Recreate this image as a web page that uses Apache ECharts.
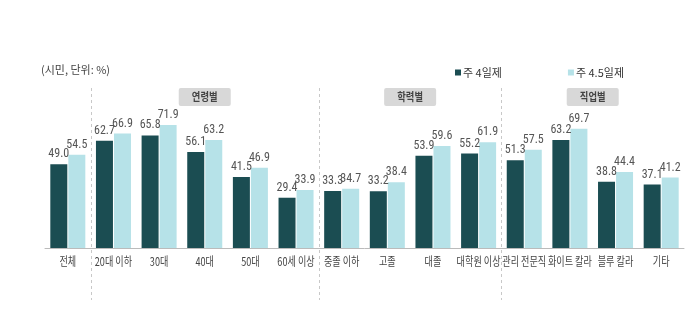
<!DOCTYPE html>
<html>
<head>
<meta charset="utf-8">
<script src="https://cdn.jsdelivr.net/npm/echarts@6/dist/echarts.min.js"></script>
<style>
  html, body { margin: 0; padding: 0; background: #fff; }
  #chart { width: 699px; height: 326px; }
</style>
</head>
<body>
<div id="chart"></div>
<script>
// Categories and values (%)
const categories = ['전체', '20대 이하', '30대', '40대', '50대', '60세 이상',
  '중졸 이하', '고졸', '대졸', '대학원 이상',
  '관리 전문직', '화이트 칼라', '블루 칼라', '기타'];
const fourDay = [49.0, 62.7, 65.8, 56.1, 41.5, 29.4, 33.3, 33.2, 53.9, 55.2, 51.3, 63.2, 38.8, 37.1];
const fourHalfDay = [54.5, 66.9, 71.9, 63.2, 46.9, 33.9, 34.7, 38.4, 59.6, 61.9, 57.5, 69.7, 44.4, 41.2];
const seriesNames = ['주 4일제', '주 4.5일제'];
// Group headers: [label, first index, last index]
const groups = [['연령별', 1, 5], ['학력별', 6, 9], ['직업별', 10, 13]];
// Dividers sit between these category pairs
const dividers = [[0, 1], [5, 6], [9, 10]];

const DARK = '#1b4d52';
const LIGHT = '#b6e2e8';
const FONT = '"Noto Sans CJK KR", "Noto Sans", sans-serif';
const NARROW = '"Liberation Sans Narrow", "Roboto Condensed", "Noto Sans CJK KR", sans-serif';

const chart = echarts.init(document.getElementById('chart'));

const labelStyle = {
  show: true, position: 'top', distance: 4,
  color: '#555', fontSize: 12, fontFamily: NARROW,
  formatter: p => p.value.toFixed(1)
};

chart.setOption({
  animation: false,
  textStyle: { fontFamily: FONT },
  title: {
    text: '(시민, 단위: %)', left: 36, top: 59,
    textStyle: { fontSize: 11, fontWeight: 'normal', color: '#444', fontFamily: FONT }
  },
  legend: {
    data: seriesNames, top: 62, left: 450, itemGap: 66,
    itemWidth: 6, itemHeight: 6, icon: 'rect',
    textStyle: { fontSize: 11, color: '#333', fontFamily: FONT, padding: [0, 0, 0, -3] }
  },
  grid: { left: 45, right: 15, top: 77, bottom: 78 },
  xAxis: {
    type: 'category', data: categories,
    axisLine: { lineStyle: { color: '#bbb' } },
    axisTick: { show: false },
    axisLabel: { show: false }
  },
  yAxis: {
    type: 'value', min: 0, max: 100, show: false
  },
  series: [
    { name: seriesNames[0], type: 'bar', data: fourDay, barWidth: 17, barGap: '6%',
      itemStyle: { color: DARK }, label: labelStyle },
    { name: seriesNames[1], type: 'bar', data: fourHalfDay, barWidth: 17,
      itemStyle: { color: LIGHT }, label: labelStyle }
  ]
});

// Dividers, group headers and condensed category labels placed via the axis scale
function catX(i) { return chart.convertToPixel({ xAxisIndex: 0 }, i); }
const baseY = chart.convertToPixel({ yAxisIndex: 0 }, 0);
const graphics = [];
dividers.forEach(([a, b]) => {
  const x = Math.round((catX(a) + catX(b)) / 2) + 0.5;
  graphics.push({
    type: 'line', shape: { x1: x, y1: 88, x2: x, y2: 300 },
    style: { stroke: '#c8c8c8', lineWidth: 1, lineDash: [3, 3] }, silent: true
  });
});
groups.forEach(([name, a, b]) => {
  const cx = (catX(a) + catX(b)) / 2;
  graphics.push({
    type: 'group', x: cx, y: 97, silent: true,
    children: [
      { type: 'rect', shape: { x: -26, y: -9, width: 52, height: 18, r: 2 },
        style: { fill: '#d8d8d8' } },
      { type: 'text', scaleX: 0.85, style: { text: name, x: 0, y: 0, align: 'center', verticalAlign: 'middle',
        fontSize: 11, fontWeight: 'bold', fill: '#444', fontFamily: FONT } }
    ]
  });
});
categories.forEach((name, i) => {
  graphics.push({
    type: 'text', x: catX(i), y: baseY + 13, scaleX: 0.76, silent: true,
    style: { text: name, x: 0, y: 0, align: 'center', verticalAlign: 'middle',
      fontSize: 12, fill: '#444', fontFamily: FONT }
  });
});
chart.setOption({ graphic: graphics });
</script>
</body>
</html>
